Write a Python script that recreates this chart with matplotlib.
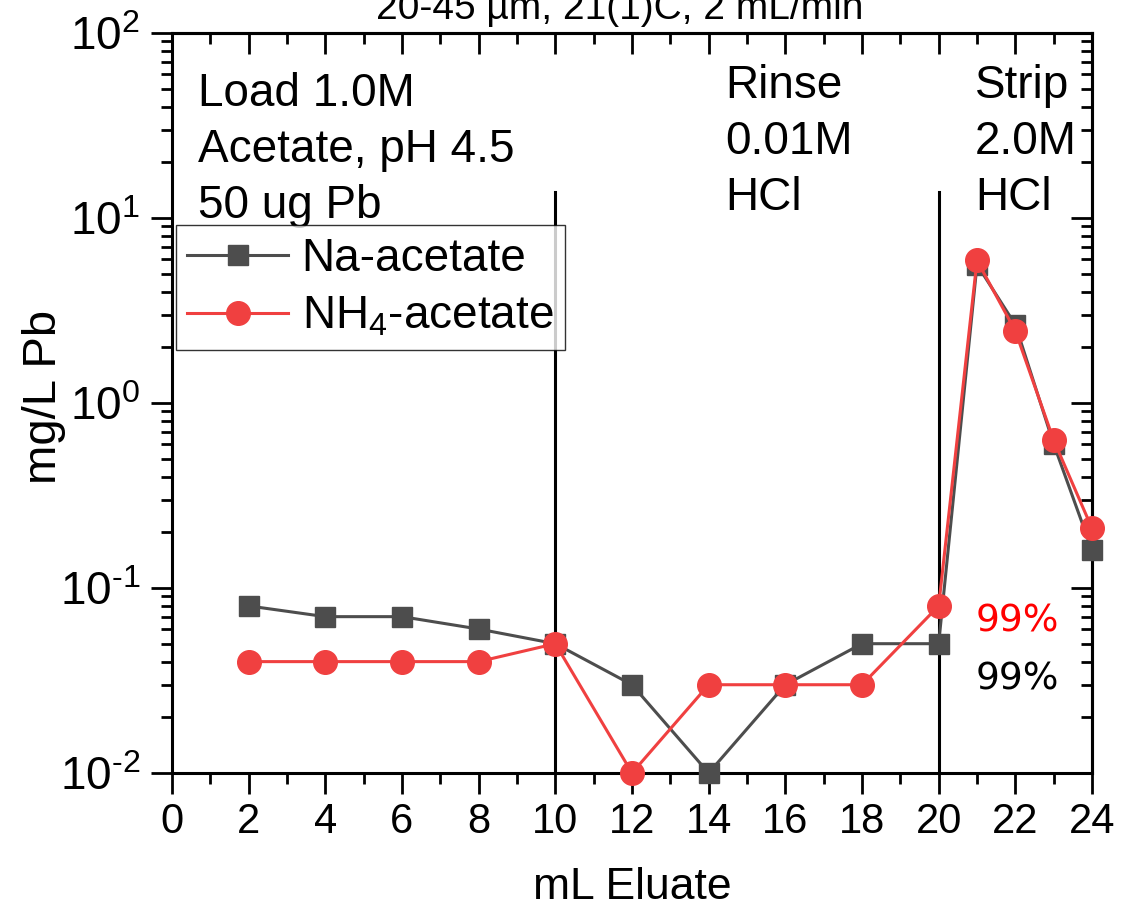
#!/usr/bin/env python3
"""
Pb elution profile: load / rinse / strip, Na- vs NH4-acetate.
"""
import numpy as np
import matplotlib
matplotlib.use('Agg')
import matplotlib.pyplot as plt
from matplotlib.ticker import FixedLocator, LogLocator, NullFormatter

plt.rcParams['font.family'] = ['Liberation Sans', 'DejaVu Sans']
plt.rcParams['mathtext.fontset'] = 'custom'
plt.rcParams['mathtext.rm'] = 'Liberation Sans'
plt.rcParams['mathtext.it'] = 'Liberation Sans'

# ------------------------------
# Data
# ------------------------------
ml_eluate = [2, 4, 6, 8, 10, 12, 14, 16, 18, 20, 21, 22, 23, 24]
na_acetate = [0.08, 0.07, 0.07, 0.06, 0.05, 0.03, 0.01, 0.03, 0.05, 0.05,
              5.6, 2.65, 0.60, 0.16]
nh4_acetate = [0.04, 0.04, 0.04, 0.04, 0.05, 0.01, 0.03, 0.03, 0.03, 0.08,
               5.9, 2.45, 0.63, 0.21]
step_bounds = [10, 20]
x_ticks = list(range(0, 25, 2))
y_ticks = [1e-2, 1e-1, 1e0, 1e1, 1e2]
y_ticklabels = [r'$\mathregular{10^{\text{-2}}}$', r'$\mathregular{10^{\text{-1}}}$',
                r'$\mathregular{10^{0}}$', r'$\mathregular{10^{1}}$',
                r'$\mathregular{10^{2}}$']

FS = 33
NA_COL = '#4d4d4d'
NH4_COL = '#f04040'

# ------------------------------
# Figure
# ------------------------------
fig = plt.figure(figsize=(11.22, 9.09), dpi=100)
ax = fig.add_axes([172/1122, 1 - 773/909, 920/1122, 740/909])

ax.plot(ml_eluate, na_acetate, '-s', color=NA_COL, lw=2.2, ms=15,
        label='Na-acetate', zorder=3, clip_on=False)
ax.plot(ml_eluate, nh4_acetate, '-o', color=NH4_COL, lw=2.2, ms=17,
        label=r'NH$_4$-acetate', zorder=4, clip_on=False)

for xb in step_bounds:
    ax.axvline(xb, ymin=0, ymax=0.785, color='black', lw=2.2, zorder=2)

ax.set_yscale('log')
ax.set_xlim(0, 24)
ax.set_ylim(1e-2, 1e2)

ax.set_xticks(x_ticks)
ax.xaxis.set_minor_locator(FixedLocator(range(0, 25)))
ax.set_yticks(y_ticks)
ax.set_yticklabels(y_ticklabels)
ax.yaxis.set_minor_locator(LogLocator(base=10, subs=np.arange(2, 10)))
ax.yaxis.set_minor_formatter(NullFormatter())

ax.tick_params(axis='both', which='major', width=2, length=15,
               direction='out', pad=6)
ax.tick_params(axis='x', which='major', labelsize=30)
ax.tick_params(axis='y', which='major', labelsize=33, pad=8)
ax.tick_params(axis='both', which='minor', width=2, length=8, direction='out')
for s in ax.spines.values():
    s.set_linewidth(2.2)

# top and right ticks point inward
top = ax.secondary_xaxis('top')
top.set_xticks(x_ticks)
top.xaxis.set_minor_locator(FixedLocator(range(0, 25)))
top.tick_params(which='major', direction='in', length=15, width=2, labeltop=False)
top.tick_params(which='minor', direction='in', length=8, width=2)
top.spines['top'].set_linewidth(2.2)

right = ax.secondary_yaxis('right')
right.set_yticks(y_ticks)
right.yaxis.set_minor_locator(LogLocator(base=10, subs=np.arange(2, 10)))
right.yaxis.set_minor_formatter(NullFormatter())
right.tick_params(which='major', direction='in', length=15, width=2, labelright=False)
right.tick_params(which='minor', direction='in', length=8, width=2)
right.spines['right'].set_linewidth(2.2)

ax.set_xlabel('mL Eluate', fontsize=32, labelpad=18)
ax.set_ylabel('mg/L Pb', fontsize=34)
ax.yaxis.set_label_coords(-0.115, 0.508)

# ------------------------------
# Annotations
# ------------------------------
ax.text(0.028, 0.947, 'Load 1.0M\nAcetate, pH 4.5\n50 ug Pb', transform=ax.transAxes,
        fontsize=FS, va='top', ha='left', linespacing=1.35)
ax.text(0.601, 0.958, 'Rinse\n0.01M\nHCl', transform=ax.transAxes,
        fontsize=FS, va='top', ha='left', linespacing=1.35)
ax.text(0.873, 0.958, 'Strip\n2.0M\nHCl', transform=ax.transAxes,
        fontsize=FS, va='top', ha='left', linespacing=1.35)
ax.text(0.873, (773 - 622) / 740, '99%', transform=ax.transAxes,
        fontsize=27, va='center', ha='left', color='red', family='DejaVu Sans')
ax.text(0.873, (773 - 680) / 740, '99%', transform=ax.transAxes,
        fontsize=27, va='center', ha='left', color='black', family='DejaVu Sans')

fig.text(620/1122, 1 - 19/909, '20-45 \u00b5m, 21(1)C, 2 mL/min', fontsize=28,
         ha='center', va='baseline')

leg = ax.legend(loc='upper left', bbox_to_anchor=(0.004, 0.74), fontsize=FS,
                frameon=True, fancybox=False, borderpad=0.25, handlelength=2.2,
                handletextpad=0.3, labelspacing=0.3, borderaxespad=0)
leg.get_frame().set_edgecolor('black')
leg.get_frame().set_linewidth(1.0)

fig.savefig('out.png', dpi=100)
